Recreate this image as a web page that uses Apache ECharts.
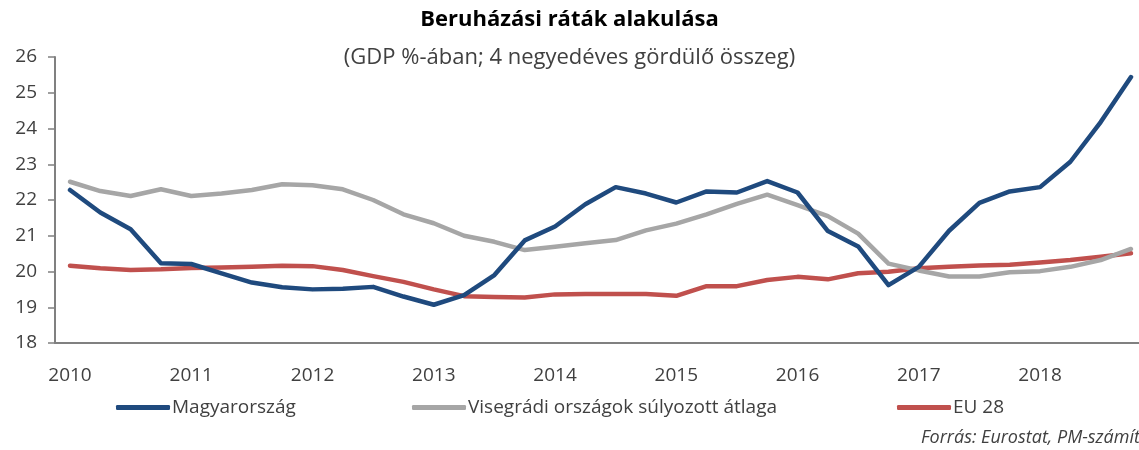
<!DOCTYPE html>
<html>
<head>
<meta charset="utf-8">
<script src="https://cdn.jsdelivr.net/npm/echarts@6/dist/echarts.min.js"></script>
<style>
html,body{margin:0;padding:0;background:#fff;}
#chart{width:1139px;height:450px;}
</style>
</head>
<body>
<div id="chart"></div>
<script>
var categories = [
 '2010','2010Q2','2010Q3','2010Q4',
 '2011','2011Q2','2011Q3','2011Q4',
 '2012','2012Q2','2012Q3','2012Q4',
 '2013','2013Q2','2013Q3','2013Q4',
 '2014','2014Q2','2014Q3','2014Q4',
 '2015','2015Q2','2015Q3','2015Q4',
 '2016','2016Q2','2016Q3','2016Q4',
 '2017','2017Q2','2017Q3','2017Q4',
 '2018','2018Q2','2018Q3','2018Q4'
];
var hungary = [22.28,21.65,21.18,20.23,20.21,19.95,19.69,19.56,19.50,19.52,19.57,19.30,
 19.07,19.34,19.90,20.87,21.26,21.88,22.36,22.18,21.93,22.24,22.21,22.53,
 22.21,21.13,20.70,19.62,20.13,21.14,21.92,22.24,22.36,23.07,24.18,25.44];
var visegrad = [22.51,22.25,22.11,22.30,22.11,22.18,22.28,22.44,22.41,22.30,22.00,21.60,
 21.35,21.00,20.83,20.60,20.69,20.79,20.88,21.15,21.34,21.60,21.89,22.15,
 21.86,21.55,21.06,20.22,20.03,19.86,19.86,19.98,20.01,20.13,20.32,20.63];
var eu28 = [20.16,20.09,20.04,20.06,20.10,20.11,20.13,20.16,20.15,20.04,19.87,19.71,
 19.50,19.31,19.29,19.27,19.36,19.37,19.37,19.37,19.32,19.59,19.59,19.76,
 19.85,19.78,19.95,19.99,20.09,20.13,20.17,20.19,20.25,20.32,20.41,20.51];
var yTicks = [18,19,20,21,22,23,24,25,26];
var seriesNames = ['Magyarország','Visegrádi országok súlyozott átlaga','EU 28'];
var colors = ['#1F4A7E','#A6A6A6','#C0504D'];

var chart = echarts.init(document.getElementById('chart'), null, {renderer:'canvas'});
var font = '"Open Sans", "Noto Sans", sans-serif';
var txt = '#404040';
var axisGrey = '#808080';

var option = {
  animation:false,
  textStyle:{fontFamily:font},
  title:{
    text:'Beruházási ráták alakulása',
    subtext:'(GDP %-ában; 4 negyedéves gördülő összeg)',
    left:'center', top:4, itemGap:16,
    textStyle:{fontFamily:font, fontSize:22, fontWeight:'bold', color:'#000'},
    subtextStyle:{fontFamily:font, fontSize:22, color:txt}
  },
  legend:[
    {data:[seriesNames[0]], left:116, top:398},
    {data:[seriesNames[1]], left:412, top:398},
    {data:[seriesNames[2]], left:897, top:398}
  ].map(function(l){
    l.icon='roundRect'; l.itemWidth=54; l.itemHeight=5; l.itemGap=0; l.padding=0;
    l.textStyle={fontFamily:font, fontSize:19, color:txt, padding:[0,0,0,-3]};
    return l;
  }),
  grid:[
    {left:70, right:8, top:57, bottom:107},
    {left:55, right:0, top:57, bottom:107}
  ],
  xAxis:[
    {type:'category', gridIndex:0, data:categories, boundaryGap:false,
     axisLine:{show:false}, axisTick:{show:false},
     axisLabel:{interval:3, margin:23, fontSize:19, color:txt, fontFamily:font,
       formatter:function(v){return v.length===4?v:'';}}},
    {type:'value', gridIndex:1, min:0, max:1, axisLine:{show:true, lineStyle:{color:axisGrey, width:2}},
     axisTick:{show:false}, axisLabel:{show:false}, splitLine:{show:false}}
  ],
  yAxis:[
    {type:'value', gridIndex:0, min:yTicks[0], max:yTicks[yTicks.length-1], interval:1, offset:15,
     axisLine:{show:true, lineStyle:{color:axisGrey, width:2}},
     axisTick:{show:true, length:7, lineStyle:{color:axisGrey, width:1.5}},
     axisLabel:{fontSize:19, color:txt, margin:18, fontFamily:font},
     splitLine:{show:false}},
    {type:'value', gridIndex:1, min:0, max:1, show:false}
  ],
  series:[
    {name:seriesNames[0], data:hungary},
    {name:seriesNames[1], data:visegrad},
    {name:seriesNames[2], data:eu28}
  ].map(function(s,i){
    s.type='line'; s.xAxisIndex=0; s.yAxisIndex=0; s.showSymbol=false; s.symbol='none';
    s.color=colors[i];
    s.lineStyle={width:4.5, color:colors[i], cap:'round', join:'round'};
    s.z = 10-i;
    return s;
  }),
  graphic:[
    {type:'text', left:921, top:429, style:{text:'Forrás: Eurostat, PM-számítás', font:'italic 18px "Open Sans", sans-serif', fill:txt}}
  ]
};
chart.setOption(option);
</script>
</body>
</html>
